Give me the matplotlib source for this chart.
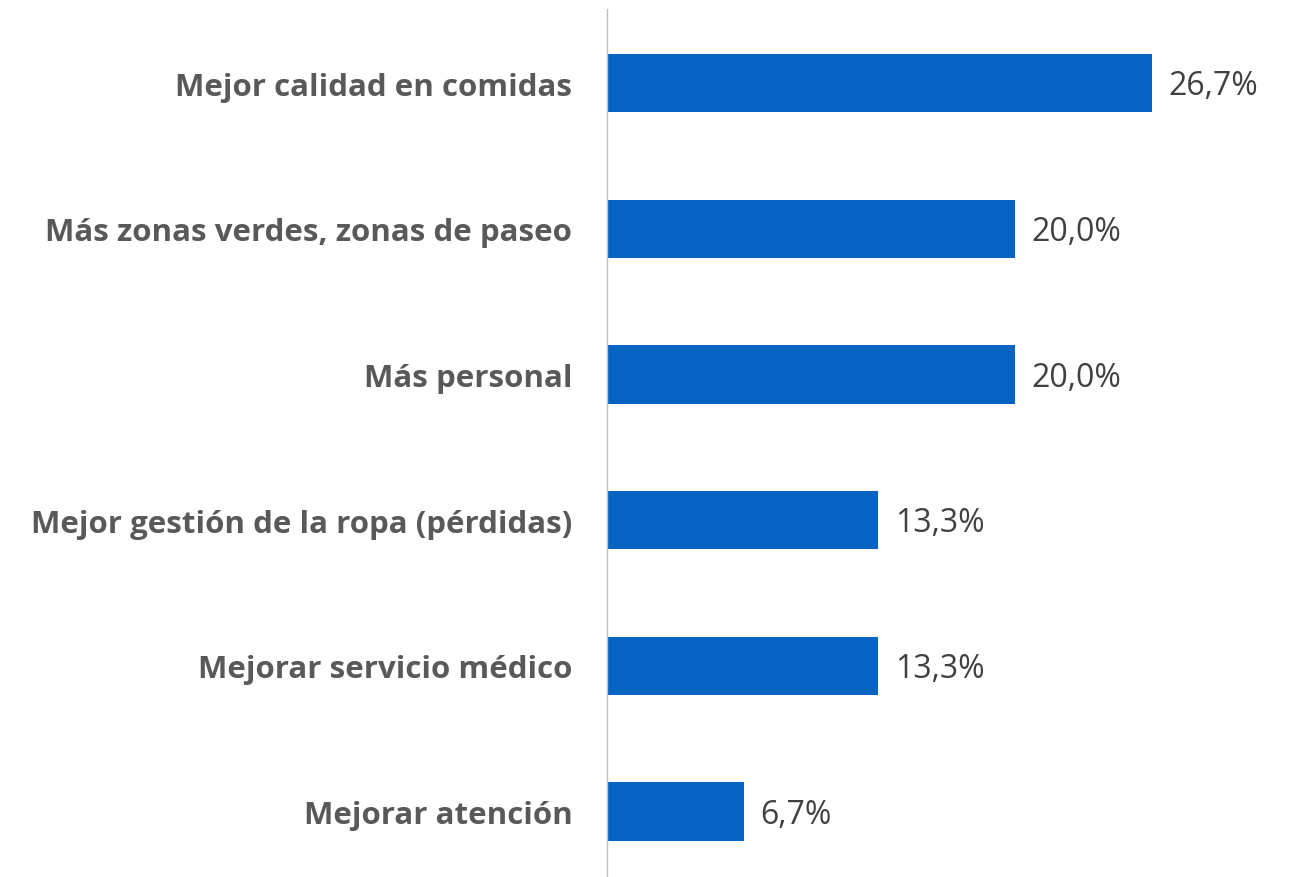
import matplotlib.pyplot as plt

# Data
categories = ["Mejor calidad en comidas", "Más zonas verdes, zonas de paseo", "Más personal",
              "Mejor gestión de la ropa (pérdidas)", "Mejorar servicio médico", "Mejorar atención"]
values = [26.7, 20.0, 20.0, 13.3, 13.3, 6.7]
value_labels = ["26,7%", "20,0%", "20,0%", "13,3%", "13,3%", "6,7%"]

plt.rcParams['font.family'] = ['Open Sans', 'DejaVu Sans']

fig = plt.figure(figsize=(12.9, 8.78), dpi=100)
ax = fig.add_axes([607 / 1290, 0.0, 612 / 1290, 1 - 10 / 878])

pos = list(range(len(categories)))
ax.barh(pos, values, height=0.40, color="#0563C1")

for p, v, lab in zip(pos, values, value_labels):
    ax.text(v + 0.8, p + 0.02, lab, va="center", ha="left", fontsize=23, color="#404040", clip_on=False)

ax.set_xlim(0, 30)
ax.set_ylim(5.45, -0.508)
ax.set_yticks(pos)
ax.set_yticklabels(categories, fontsize=22.5, fontweight="bold", color="#595959")
ax.tick_params(axis="y", length=0, pad=25)
ax.set_xticks([])

for s in ["top", "right", "bottom"]:
    ax.spines[s].set_visible(False)
ax.spines["left"].set_color("#BFBFBF")
ax.spines["left"].set_linewidth(1)

fig.savefig("out.png", dpi=100)
